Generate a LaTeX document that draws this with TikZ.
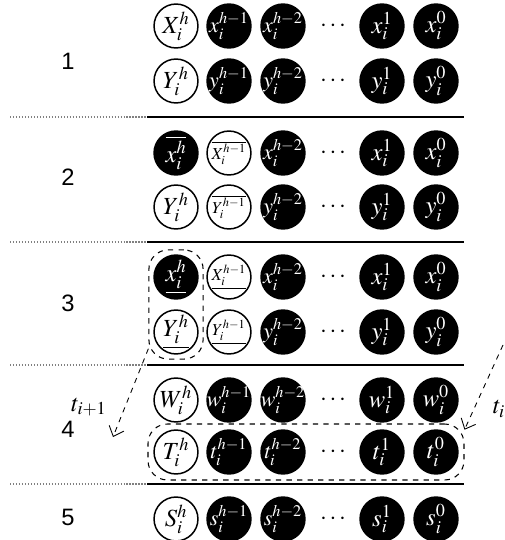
\documentclass[tikz,border=0pt]{standalone}
\usepackage{mathptmx}
\usepackage[no-math]{fontspec}
\newfontfamily\labfont{Liberation Sans}
\usetikzlibrary{arrows.meta,positioning,calc,fit}
\newcommand{\inball}[1]{\makebox[0pt]{$#1$}}
\newcommand{\inwide}[1]{\makebox[0pt]{\fontsize{12.5}{14}\selectfont$#1$}}
\newcommand{\insmall}[1]{\makebox[0pt]{\fontsize{9.5}{11}\selectfont$#1$}}
\tikzset{
  wcirc/.style   = {draw, circle, line width=0.85pt, minimum size=25pt,
                    inner sep=0pt, fill=white},
  bcirc/.style   = {wcirc, fill=black, text=white},
  seprule/.style = {line width=1.1pt},
  sepdots/.style = {gray, densely dotted, line width=0.7pt},
  grp/.style     = {draw, dashed, line width=0.6pt, rounded corners=11pt},
  hop/.style     = {dashed, line width=0.5pt, -{Straight Barb[length=5pt,width=9pt]}},
  steplab/.style = {font=\labfont\fontsize{13.5}{15}\selectfont},
}
\begin{document}
\begin{tikzpicture}[x=0.02cm,y=-0.02cm,font=\fontsize{14}{16}\selectfont]
\useasboundingbox (0,0) rectangle (504,540);
% separators between the steps
\foreach \y in {117,242,365,484}{
  \draw[sepdots] (10,\y) -- (147,\y);
  \draw[seprule] (147,\y) -- (464,\y);}
% step numbers
\foreach \n/\y in {1/61,2/177,3/303,4/429,5/517}
  \node[steplab] (lab\n) at (68,\y) {\n};
% right part of every row
\foreach \r/\y/\l in {1a/26/x,1b/81/y,2a/153/x,2b/207/y,3a/277/x,3b/332/y,4a/400/w,4b/452/t,5/519/s}{
  \node[bcirc] (\l\r-2) at (283,\y) {\inwide{\l_i^{h-2}}};
  \node (\l\r-d) at (333,\y) {$\cdots$};
  \node[bcirc] (\l\r-1) at (382,\y) {\inball{\l_i^{1}}};
  \node[bcirc] (\l\r-0) at (436,\y) {\inball{\l_i^{0}}};}
% plain rows
\foreach \r/\y/\l/\L in {1a/26/x/X,1b/81/y/Y,4a/400/w/W,4b/452/t/T,5/519/s/S}{
  \node[wcirc] (\l\r-h) at (176,\y) {\inball{\L_i^h}};
  \node[bcirc] (\l\r-h1) at (229,\y) {\inwide{\l_i^{h-1}}};}
% step 2
\node[bcirc] (x2a-h) at (176,153) {\inball{\overline{x_i^h}}};
\node[wcirc] (x2a-h1) at (229,153) {\insmall{\overline{X_i^{h-1}}}};
\node[wcirc] (y2b-h) at (176,207) {\inball{Y_i^h}};
\node[wcirc] (y2b-h1) at (229,207) {\insmall{\overline{Y_i^{h-1}}}};
% step 3
\node[bcirc] (x3a-h) at (176,277) {\inball{\underline{x_i^h}}};
\node[wcirc] (x3a-h1) at (229,277) {\insmall{\underline{X_i^{h-1}}}};
\node[wcirc] (y3b-h) at (176,332) {\inball{\underline{Y_i^h}}};
\node[wcirc] (y3b-h1) at (229,332) {\insmall{\underline{Y_i^{h-1}}}};
% dashed groups and the two moves
\node[grp, fit=(x3a-h)(y3b-h), inner sep=2.5pt] (g3) {};
\node[grp, fit=(t4b-h)(t4b-0), inner sep=3pt] (g4) {};
\coordinate (t1end) at (113,437);
\coordinate (t0start) at (503,345);
\draw[hop] (g3.238) -- (t1end);
\draw[hop] (t0start) -- (g4.8);
\node (t1lab) at (89,407) {$t_{i+1}$};
\node (t0lab) at (499,409) {$t_i$};
\end{tikzpicture}
\end{document}
